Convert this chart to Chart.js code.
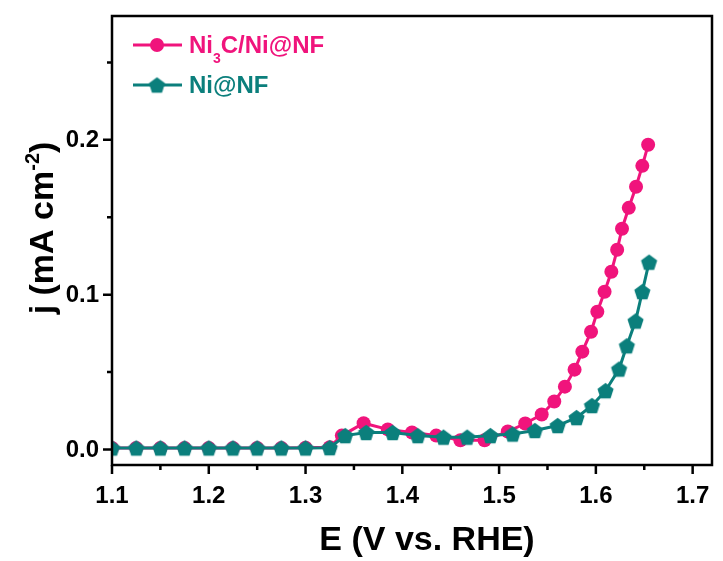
<!DOCTYPE html>
<html>
<head>
<meta charset="utf-8">
<script src="https://cdn.jsdelivr.net/npm/chart.js@4.4.1/dist/chart.umd.min.js"></script>
<style>
  html, body { margin: 0; padding: 0; background: #fff; overflow: hidden; }
</style>
</head>
<body>
<canvas id="lsv-chart" width="723" height="561"></canvas>
<script>
// LSV curves
const ni3cPotential = [1.1, 1.125, 1.15, 1.175, 1.2, 1.225, 1.25, 1.275, 1.3, 1.325,
  1.3375, 1.36, 1.385, 1.41, 1.435, 1.46, 1.485, 1.509, 1.527, 1.544, 1.557, 1.568,
  1.578, 1.586, 1.595, 1.6015, 1.609, 1.616, 1.622, 1.627, 1.634, 1.6415, 1.648, 1.654];
const ni3cCurrent = [0.001, 0.001, 0.001, 0.001, 0.001, 0.001, 0.001, 0.001, 0.0012, 0.0015,
  0.009, 0.017, 0.013, 0.011, 0.009, 0.006, 0.006, 0.0116, 0.0168, 0.0226, 0.031, 0.0406,
  0.0516, 0.0632, 0.0761, 0.089, 0.1019, 0.1148, 0.129, 0.1426, 0.1561, 0.1697, 0.1832, 0.1968];

const niPotential = [1.1, 1.125, 1.15, 1.175, 1.2, 1.225, 1.25, 1.275, 1.3, 1.325,
  1.341, 1.3626, 1.39, 1.416, 1.4426, 1.467, 1.491, 1.514, 1.537, 1.5605, 1.58,
  1.596, 1.61, 1.624, 1.632, 1.641, 1.648, 1.655];
const niCurrent = [0.001, 0.001, 0.001, 0.001, 0.001, 0.001, 0.001, 0.001, 0.001, 0.0012,
  0.009, 0.011, 0.011, 0.009, 0.008, 0.008, 0.009, 0.010, 0.0123, 0.0155, 0.0206,
  0.0284, 0.038, 0.052, 0.067, 0.083, 0.102, 0.121];

const seriesNames = ['Ni3C/Ni@NF', 'Ni@NF'];

const xMajorTicks = [1.1, 1.2, 1.3, 1.4, 1.5, 1.6, 1.7];
const xMinorTicks = [1.15, 1.25, 1.35, 1.45, 1.55, 1.65];
const yMajorTicks = [0.0, 0.1, 0.2];
const yMinorTicks = [0.05, 0.15, 0.25];

const PINK = '#f0147c';
const TEAL = '#0b7f7c';

function toPoints(xs, ys) {
  return xs.map((x, i) => ({ x: x, y: ys[i] }));
}

// pentagon marker for the Ni@NF curve
function makePentagon(color, r) {
  const size = Math.ceil(r * 2 + 2);
  const c = document.createElement('canvas');
  c.width = size;
  c.height = size;
  const g = c.getContext('2d');
  const cx = size / 2, cy = size / 2 + 0.8;
  g.beginPath();
  for (let k = 0; k < 5; k++) {
    const a = -Math.PI / 2 + k * 2 * Math.PI / 5;
    const px = cx + r * Math.cos(a), py = cy + r * Math.sin(a);
    if (k === 0) g.moveTo(px, py); else g.lineTo(px, py);
  }
  g.closePath();
  g.fillStyle = color;
  g.fill();
  return c;
}
const pentagon = makePentagon(TEAL, 8.5);

function setTicks(major, minor) {
  return function (scale) {
    scale.ticks = major.concat(minor).sort((a, b) => a - b).map((v) => ({ value: v }));
  };
}

function isMajor(list, v) {
  return list.some((m) => Math.abs(m - v) < 1e-9);
}

const FONT = "'Liberation Sans', Arial, sans-serif";

// frame, tick marks + labels, axis titles and legend
const decorPlugin = {
  id: 'decor',
  afterDraw(chart) {
    const ctx = chart.ctx;
    const a = chart.chartArea;
    const xs = chart.scales.x, ys = chart.scales.y;
    ctx.save();
    ctx.strokeStyle = '#000';
    ctx.lineWidth = 2.5;
    ctx.strokeRect(a.left, a.top, a.right - a.left, a.bottom - a.top);

    ctx.beginPath();
    xs.ticks.forEach((t) => {
      const px = xs.getPixelForValue(t.value);
      const len = isMajor(xMajorTicks, t.value) ? 9 : 5;
      ctx.moveTo(px, a.bottom);
      ctx.lineTo(px, a.bottom + len);
    });
    ys.ticks.forEach((t) => {
      const py = ys.getPixelForValue(t.value);
      const len = isMajor(yMajorTicks, t.value) ? 9 : 5;
      ctx.moveTo(a.left, py);
      ctx.lineTo(a.left - len, py);
    });
    ctx.stroke();

    ctx.fillStyle = '#000';
    ctx.font = 'bold 24px ' + FONT;
    ctx.textAlign = 'center';
    ctx.textBaseline = 'alphabetic';
    xMajorTicks.forEach((v) => {
      ctx.fillText(v.toFixed(1), xs.getPixelForValue(v), a.bottom + 38);
    });
    ctx.textAlign = 'right';
    ctx.textBaseline = 'middle';
    yMajorTicks.forEach((v) => {
      ctx.fillText(v.toFixed(1), a.left - 13, ys.getPixelForValue(v) + 1);
    });

    // x title
    ctx.textBaseline = 'alphabetic';
    ctx.font = 'bold 34px ' + FONT;
    ctx.textAlign = 'center';
    ctx.fillText('E (V vs. RHE)', 427, 550);

    // y title with superscript
    ctx.save();
    ctx.translate(53, 228);
    ctx.rotate(-Math.PI / 2);
    const main = 'j (mA cm';
    const sup = '-2';
    const close = ')';
    ctx.font = 'bold 34px ' + FONT;
    const w1 = ctx.measureText(main).width;
    const w3 = ctx.measureText(close).width;
    ctx.font = 'bold 20px ' + FONT;
    const w2 = ctx.measureText(sup).width;
    const x0 = -(w1 + w2 + w3) / 2;
    ctx.textAlign = 'left';
    ctx.font = 'bold 34px ' + FONT;
    ctx.fillText(main, x0, 0);
    ctx.font = 'bold 20px ' + FONT;
    ctx.fillText(sup, x0 + w1, -14);
    ctx.font = 'bold 34px ' + FONT;
    ctx.fillText(close, x0 + w1 + w2, 0);
    ctx.restore();

    // legend
    ctx.lineWidth = 3;
    ctx.strokeStyle = PINK;
    ctx.beginPath();
    ctx.moveTo(133, 45);
    ctx.lineTo(182, 45);
    ctx.stroke();
    ctx.fillStyle = PINK;
    ctx.beginPath();
    ctx.arc(157, 45, 7, 0, Math.PI * 2);
    ctx.fill();
    ctx.textAlign = 'left';
    ctx.font = 'bold 24px ' + FONT;
    ctx.fillText('Ni', 189, 53);
    let wx = 189 + ctx.measureText('Ni').width;
    ctx.font = 'bold 14px ' + FONT;
    ctx.fillText('3', wx, 63);
    wx += ctx.measureText('3').width;
    ctx.font = 'bold 24px ' + FONT;
    ctx.fillText('C/Ni@NF', wx, 53);

    ctx.strokeStyle = TEAL;
    ctx.beginPath();
    ctx.moveTo(133, 85);
    ctx.lineTo(182, 85);
    ctx.stroke();
    ctx.drawImage(pentagon, 157 - pentagon.width / 2, 85 - pentagon.height / 2);
    ctx.fillStyle = TEAL;
    ctx.font = 'bold 24px ' + FONT;
    ctx.fillText(seriesNames[1], 189, 93);
    ctx.restore();
  },
};

const chart = new Chart(document.getElementById('lsv-chart'), {
  type: 'line',
  data: {
    datasets: [
      {
        label: seriesNames[0],
        data: toPoints(ni3cPotential, ni3cCurrent),
        borderColor: PINK,
        backgroundColor: PINK,
        borderWidth: 3,
        pointStyle: 'circle',
        pointRadius: 7,
        pointBorderWidth: 0,
        pointHoverRadius: 7,
        tension: 0,
        order: 1,
      },
      {
        label: seriesNames[1],
        data: toPoints(niPotential, niCurrent),
        borderColor: TEAL,
        backgroundColor: TEAL,
        borderWidth: 3,
        pointStyle: pentagon,
        pointRadius: 8,
        tension: 0,
        order: 0,
      },
    ],
  },
  options: {
    responsive: false,
    animation: false,
    events: [],
    layout: { padding: { top: 16, right: 5, left: 0, bottom: 0 } },
    plugins: {
      legend: { display: false },
      tooltip: { enabled: false },
    },
    scales: {
      x: {
        type: 'linear',
        min: 1.1,
        max: 1.72,
        afterBuildTicks: setTicks(xMajorTicks, xMinorTicks),
        afterFit: (s) => { s.height = 96; },
        grid: { display: false, drawTicks: false },
        border: { display: false },
        ticks: { display: false },
      },
      y: {
        type: 'linear',
        min: -0.01,
        max: 0.28,
        afterBuildTicks: setTicks(yMajorTicks, yMinorTicks),
        afterFit: (s) => { s.width = 112; },
        grid: { display: false, drawTicks: false },
        border: { display: false },
        ticks: { display: false },
      },
    },
  },
  plugins: [decorPlugin],
});
</script>
</body>
</html>
